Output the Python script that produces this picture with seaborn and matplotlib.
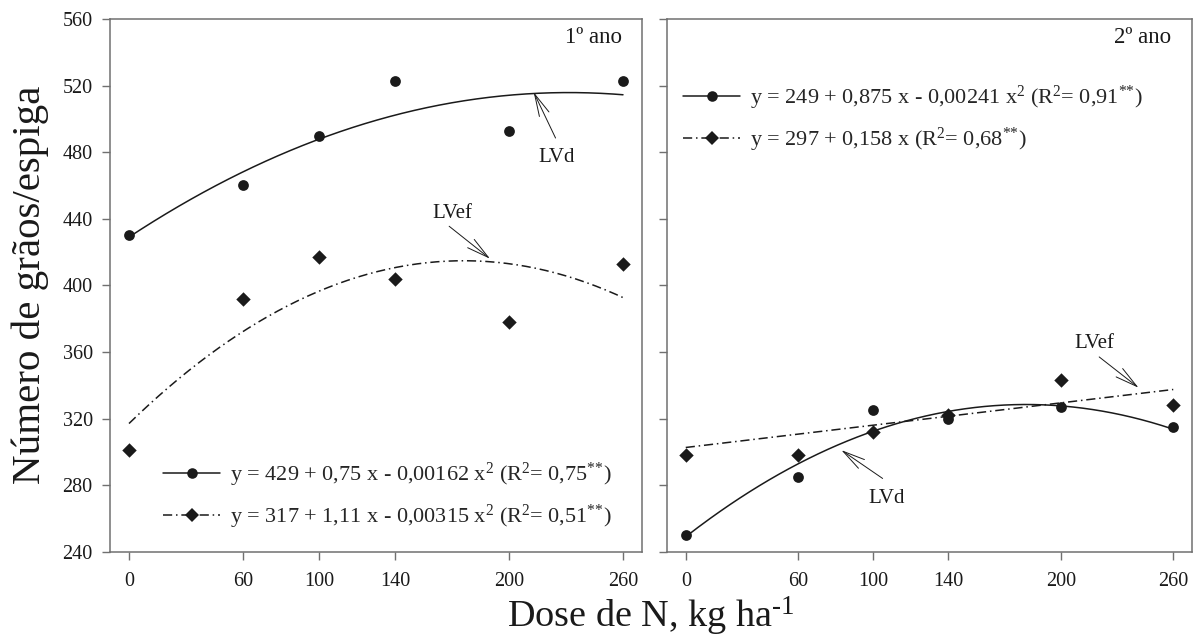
import numpy as np
import pandas as pd
import matplotlib
matplotlib.use("Agg")
import matplotlib.pyplot as plt
from matplotlib.lines import Line2D
import seaborn as sns

# ---------------- data ----------------
doses = [0, 60, 100, 140, 200, 260]
ano1_lvd = [430, 460, 490, 523, 493, 523]
ano1_lvef = [301, 392, 417, 404, 378, 413]
ano2_lvd = [250, 285, 325, 320, 327, 315]
ano2_lvef = [298, 298, 312, 322, 343, 328]

# regression coefficients (c0, c1, c2) as drawn
fit1_lvd = [429, 0.75, -0.00162]
fit1_lvef = [317, 1.11, -0.00315]
fit2_lvd = [249, 0.875, -0.00241]
fit2_lvef = [302.6, 0.134, 0.0]

eq1_lvd = r"y = 429 + 0,75 x - 0,00162 x$^2$ (R$^2$= 0,75$^{\text{**}}$)"
eq1_lvef = r"y = 317 + 1,11 x - 0,00315 x$^2$ (R$^2$= 0,51$^{\text{**}}$)"
eq2_lvd = r"y = 249 + 0,875 x - 0,00241 x$^2$ (R$^2$= 0,91$^{\text{**}}$)"
eq2_lvef = r"y = 297 + 0,158 x (R$^2$= 0,68$^{\text{**}}$)"

xticks = [0, 60, 100, 140, 200, 260]
yticks = [240, 280, 320, 360, 400, 440, 480, 520, 560]
panel_titles = ["1º ano", "2º ano"]

# ---------------- style ----------------
sns.set_style("ticks")
plt.rcParams['font.family'] = ['Liberation Serif', 'DejaVu Serif']
plt.rcParams['mathtext.fontset'] = 'custom'
plt.rcParams['mathtext.rm'] = 'Liberation Serif'
plt.rcParams['mathtext.it'] = 'Liberation Serif:italic'
plt.rcParams['mathtext.bf'] = 'Liberation Serif:bold'

SPINE = '#707070'
INK = '#1a1a1a'
DASHDOT = (0, (6, 2.5, 1, 2.5))
LW = 1.1

df = pd.DataFrame({
    'dose': doses * 4,
    'valor': ano1_lvd + ano1_lvef + ano2_lvd + ano2_lvef,
    'solo': ['LVd'] * 6 + ['LVef'] * 6 + ['LVd'] * 6 + ['LVef'] * 6,
    'ano': [1] * 12 + [2] * 12,
})

xs = np.linspace(0, 260, 200)
def curve(c):
    return c[0] + c[1] * xs + c[2] * xs ** 2

curves = pd.DataFrame({
    'dose': np.concatenate([xs] * 4),
    'valor': np.concatenate([curve(fit1_lvd), curve(fit1_lvef), curve(fit2_lvd), curve(fit2_lvef)]),
    'solo': ['LVd'] * 200 + ['LVef'] * 200 + ['LVd'] * 200 + ['LVef'] * 200,
    'ano': [1] * 400 + [2] * 400,
})

W, H = 1197, 639
fig = plt.figure(figsize=(W / 100, H / 100), dpi=100)
top, bottom = 19, 551.7
ax1 = fig.add_axes([110 / W, 1 - bottom / H, 532 / W, (bottom - top) / H])
ax2 = fig.add_axes([667 / W, 1 - bottom / H, 525 / W, (bottom - top) / H])

markers = {'LVd': 'o', 'LVef': 'D'}
sizes_pt = {'LVd': 60, 'LVef': 54}

for ax, ano in ((ax1, 1), (ax2, 2)):
    c = curves[curves.ano == ano]
    sns.lineplot(data=c[c.solo == 'LVd'], x='dose', y='valor', color=INK, lw=LW, ax=ax, legend=False)
    sns.lineplot(data=c[c.solo == 'LVef'], x='dose', y='valor', color=INK, lw=LW, ax=ax,
                 legend=False, linestyle=DASHDOT)
    d = df[df.ano == ano]
    for solo in ('LVd', 'LVef'):
        sns.scatterplot(data=d[d.solo == solo], x='dose', y='valor', marker=markers[solo],
                        s=sizes_pt[solo], color=INK, edgecolor=INK, linewidth=0, ax=ax,
                        legend=False, zorder=5)
    ax.set_xlim(-10, 270)
    ax.set_ylim(240, 560)
    ax.set_xticks(xticks)
    ax.set_yticks(yticks)
    ax.set_xlabel('')
    ax.set_ylabel('')
    for sp in ax.spines.values():
        sp.set_visible(True)
        sp.set_color(SPINE)
        sp.set_linewidth(1.1)
    ax.tick_params(axis='both', direction='out', length=5.5, width=1.0, color=SPINE,
                   labelsize=14.5, labelcolor=INK, top=False, right=False)
    ax.tick_params(axis='x', pad=9)
    ax.tick_params(axis='y', pad=7)

ax2.set_yticklabels([])

ax1.text(0.962, 0.965, panel_titles[0], transform=ax1.transAxes, ha='right', va='center', fontsize=16.5, color=INK)
ax2.text(0.960, 0.965, panel_titles[1], transform=ax2.transAxes, ha='right', va='center', fontsize=16.5, color=INK)

# legends
def handles():
    h1 = Line2D([], [], color=INK, lw=LW, marker='o', markersize=7.6, markerfacecolor=INK, markeredgewidth=0)
    h2 = Line2D([], [], color=INK, lw=LW, linestyle=DASHDOT, marker='D', markersize=7.0,
                markerfacecolor=INK, markeredgewidth=0)
    return [h1, h2]

leg_kw = dict(loc='center left', frameon=False, fontsize=16, handlelength=2.57, handletextpad=0.45,
              labelspacing=0.62, borderpad=0, borderaxespad=0)
ax1.legend(handles(), [eq1_lvd, eq1_lvef], bbox_to_anchor=(0.0996, 0.1045), **leg_kw)
ax2.legend(handles(), [eq2_lvd, eq2_lvef], bbox_to_anchor=(0.031, 0.812), **leg_kw)

# annotations
arrow = dict(arrowstyle='->,head_length=1.6,head_width=0.38', lw=0.7, color=INK, shrinkA=0, shrinkB=0)
ax1.annotate('', xy=(213, 516), xytext=(224.5, 488.5), arrowprops=arrow)
ax1.text(225, 477, 'LVd', ha='center', va='center', fontsize=15, color=INK)
ax1.annotate('', xy=(190, 416), xytext=(168.5, 435.5), arrowprops=arrow)
ax1.text(170, 443, 'LVef', ha='center', va='center', fontsize=15, color=INK)
ax2.annotate('', xy=(83, 301), xytext=(105, 284), arrowprops=arrow)
ax2.text(107, 272, 'LVd', ha='center', va='center', fontsize=15, color=INK)
ax2.annotate('', xy=(241.5, 338.5), xytext=(220.5, 357), arrowprops=arrow)
ax2.text(218, 365, 'LVef', ha='center', va='center', fontsize=15, color=INK)

fig.text(0.025, 1 - 285 / H, 'Número de grãos/espiga', rotation=90, ha='center', va='center',
         fontsize=29.5, color=INK)
fig.text(651 / W, 1 - 627 / H, r'Dose de N, kg ha$^{\text{-1}}$', ha='center', va='baseline',
         fontsize=27.5, color=INK)

fig.savefig('out.png', dpi=100, facecolor='white')
